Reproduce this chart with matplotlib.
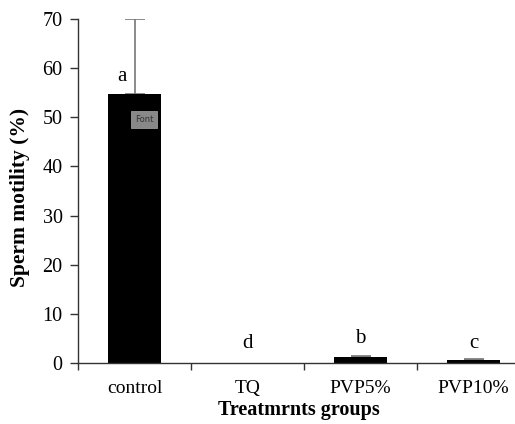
import matplotlib
matplotlib.use("Agg")
import matplotlib.pyplot as plt
import numpy as np

categories = ["control", "TQ", "PVP5%", "PVP10%"]
values = [54.7, 0.0, 1.2, 0.7]
errors = [15.2, 0.0, 0.3, 0.2]
letters = ["a", "d", "b", "c"]
letter_y = [58.3, 4.0, 5.0, 4.0]
letter_dx = [-0.11, 0.0, 0.0, 0.0]

plt.rcParams['font.family'] = ['Liberation Serif', 'DejaVu Serif']

fig = plt.figure(figsize=(5.15, 4.24), dpi=100)
W, H = 515, 424
left, right, top, bottom = 78, 530, 19, 363
ax = fig.add_axes([left / W, 1 - bottom / H, (right - left) / W, (bottom - top) / H])

x = np.arange(len(categories))
vals = np.array(values)
errs = np.array(errors)
ax.bar(x, vals, width=0.47, color="black", zorder=2)
m = errs > 0
ax.errorbar(x[m], vals[m], yerr=[np.zeros(m.sum()), errs[m]], fmt="none",
            ecolor="#777777", elinewidth=1.2, capsize=7, capthick=1.2, zorder=1)

for xi, lab, ly, dx in zip(x, letters, letter_y, letter_dx):
    ax.text(xi + dx, ly, lab, ha="center", va="center", fontsize=15)

ax.text(0.085, 49.5, "Font", ha="center", va="center", fontsize=6, color="#333333",
        family="DejaVu Sans",
        bbox=dict(boxstyle="square,pad=0.45", fc="#888888", ec="#aaaaaa", lw=0.5), zorder=4)

ax.set_xlim(-0.5, len(categories) - 0.5)
ax.set_ylim(0, 70)
ax.set_yticks(range(0, 71, 10))
ax.set_xticks(np.arange(-0.5, len(categories), 1.0), minor=False)
ax.set_xticklabels([])
ax.set_xticks(x, minor=True)
ax.set_xticklabels(categories, minor=True)
ax.tick_params(axis="x", which="minor", length=0, labelsize=14, pad=12)
ax.tick_params(axis="x", which="major", length=5, direction="out", width=1, color="#333333")
ax.tick_params(axis="y", length=6, direction="out", width=1, labelsize=14.5, pad=5, color="#333333")

for s in ["top", "right"]:
    ax.spines[s].set_visible(False)
for s in ["left", "bottom"]:
    ax.spines[s].set_linewidth(1)
    ax.spines[s].set_color("#333333")

ax.set_xlabel("Treatmrnts groups", fontsize=14.5, fontweight="bold")
ax.set_ylabel("Sperm motility (%)", fontsize=15.5, fontweight="bold")
ax.xaxis.set_label_coords((299 - left) / (right - left), -(400 - bottom) / (bottom - top))
ax.yaxis.set_label_coords(-(78 - 30) / (right - left), (363 - 197) / (bottom - top))

fig.savefig("out.png", dpi=100)
